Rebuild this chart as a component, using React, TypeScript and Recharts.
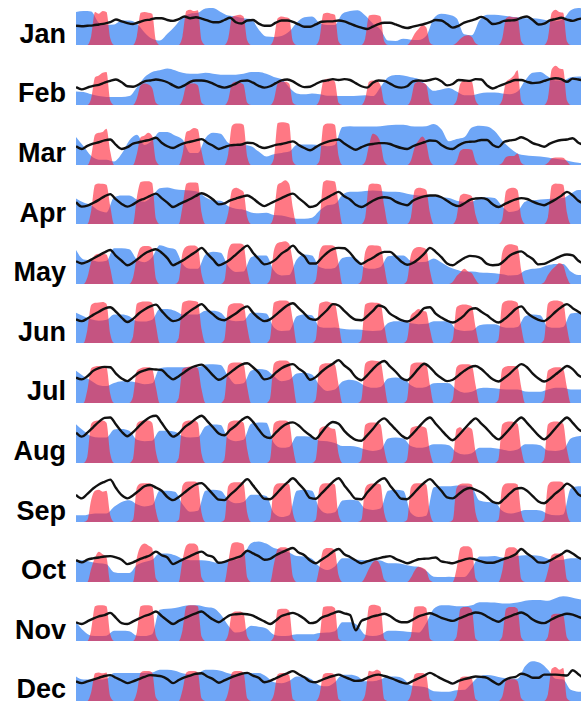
import { ComposedChart, Area, Line, XAxis, YAxis } from "recharts"

const months = ["Jan", "Feb", "Mar", "Apr", "May", "Jun", "Jul", "Aug", "Sep", "Oct", "Nov", "Dec"]

// sampling interval (hours) of each series
const SUN_STEP = 2
const TEMP_STEP = 3
const HUMIDITY_STEP = 4
const HOURS = 268

// sun: every 2h, one line per day
const janSun = [
  0, 0, 0, 0, 20, 74, 70, 76, 74, 15, 0, 0,
  0, 0, 0, 0, 20, 72, 74, 72, 70, 10, 0, 0,
  0, 0, 0, 0, 20, 76, 79, 76, 78, 10, 0, 0,
  0, 0, 0, 0, 15, 62, 66, 68, 64, 10, 0, 0,
  0, 0, 0, 0, 15, 60, 64, 62, 60, 8, 0, 0,
  0, 0, 0, 0, 15, 70, 72, 70, 68, 8, 0, 0,
  0, 0, 0, 0, 15, 66, 68, 67, 64, 8, 0, 0,
  0, 0, 0, 0, 10, 26, 36, 45, 40, 5, 0, 0,
  0, 0, 0, 0, 5, 14, 20, 22, 18, 4, 0, 0,
  0, 0, 0, 0, 15, 60, 64, 62, 62, 8, 0, 0,
  0, 0, 0, 0, 15, 72, 79, 74, 72, 8, 0, 0,
  0, 0, 0,
]
const janTemp = [
  43, 42, 43, 44, 46, 48, 51, 57,
  53, 49, 47, 51, 55, 57, 60, 60,
  56, 54, 58, 64, 60, 62, 59, 55,
  51, 51, 56, 61, 51, 48, 55, 56,
  48, 43, 43, 50, 55, 55, 52, 46,
  41, 41, 46, 52, 53, 53, 55, 53,
  48, 43, 39, 36, 41, 47, 50, 50,
  46, 41, 38, 41, 44, 47, 51, 56,
  55, 47, 39, 43, 50, 54, 58, 63,
  57, 47, 49, 54, 55, 56, 61, 64,
  56, 46, 48, 55, 58, 61, 57, 54,
  58, 60,
]
const janHumidity = [
  74, 76, 75, 50, 45, 46,
  55, 55, 48, 28, 14, 10,
  25, 42, 62, 70, 72, 82,
  83, 74, 66, 64, 60, 58,
  35, 19, 18, 20, 30, 50,
  62, 64, 50, 45, 45, 70,
  76, 78, 66, 48, 35, 10,
  9, 14, 12, 11, 20, 60,
  70, 68, 60, 24, 22, 55,
  68, 68, 66, 64, 62, 60,
  60, 58, 55, 53, 58, 78,
  83, 80,
]

const febSun = [
  0, 0, 0, 0, 15, 62, 66, 72, 74, 10, 0, 0,
  0, 0, 0, 0, 15, 44, 48, 46, 38, 5, 0, 0,
  0, 0, 0, 0, 12, 44, 48, 48, 44, 5, 0, 0,
  0, 0, 0, 0, 12, 48, 52, 50, 46, 5, 0, 0,
  0, 0, 0, 0, 12, 48, 52, 52, 48, 5, 0, 0,
  0, 0, 0, 0, 12, 54, 59, 58, 52, 5, 0, 0,
  0, 0, 0, 0, 15, 52, 55, 54, 45, 5, 0, 0,
  0, 0, 0, 0, 12, 48, 52, 50, 46, 5, 0, 0,
  0, 0, 0, 0, 10, 48, 55, 54, 52, 10, 0, 0,
  0, 0, 0, 0, 12, 52, 58, 66, 78, 8, 0, 0,
  0, 0, 0, 0, 15, 80, 88, 82, 80, 10, 0, 0,
  0, 0, 0,
]
const febTemp = [
  40, 35, 39, 43, 45, 50, 54, 57,
  51, 42, 41, 46, 53, 55, 57, 55,
  51, 44, 39, 44, 52, 55, 55, 53,
  48, 42, 39, 42, 48, 54, 55, 50,
  43, 39, 42, 49, 55, 57, 53, 45,
  40, 41, 47, 53, 55, 58, 56, 58,
  56, 49, 42, 39, 50, 55, 54, 48,
  41, 39, 42, 53, 55, 54, 56, 59,
  53, 44, 47, 56, 55, 54, 58, 57,
  44, 37, 42, 47, 52, 56, 56, 52,
  49, 50, 54, 58, 60, 58, 52, 59,
  57, 55,
]
const febHumidity = [
  30, 29, 24, 20, 18, 18,
  18, 20, 40, 62, 74, 78,
  82, 78, 72, 70, 70, 72,
  70, 68, 68, 68, 70, 74,
  74, 70, 63, 58, 40, 26,
  24, 26, 24, 21, 21, 20,
  20, 21, 22, 20, 40, 62,
  67, 66, 62, 58, 45, 32,
  35, 38, 30, 22, 22, 26,
  28, 28, 26, 24, 30, 55,
  72, 74, 64, 55, 55, 62,
  64, 62,
]

const marSun = [
  0, 0, 0, 0, 20, 68, 72, 74, 81, 30, 0, 0,
  0, 0, 0, 0, 25, 62, 66, 72, 65, 10, 0, 0,
  0, 0, 0, 0, 25, 74, 78, 83, 80, 30, 0, 0,
  0, 0, 0, 0, 25, 88, 93, 93, 90, 18, 0, 0,
  0, 0, 0, 0, 15, 94, 96, 95, 92, 8, 0, 0,
  0, 0, 0, 0, 10, 88, 93, 93, 90, 20, 0, 0,
  0, 0, 0, 0, 8, 45, 70, 66, 50, 8, 0, 0,
  0, 0, 0, 0, 10, 40, 55, 64, 50, 10, 0, 0,
  0, 0, 0, 0, 8, 32, 36, 36, 34, 8, 0, 0,
  0, 0, 0, 0, 5, 18, 20, 20, 26, 5, 0, 0,
  0, 0, 0, 0, 5, 15, 17, 17, 16, 8, 0, 0,
  0, 0, 0,
]
const marTemp = [
  42, 36, 43, 48, 51, 55, 57, 45,
  36, 40, 48, 51, 54, 57, 61, 50,
  42, 38, 44, 49, 52, 55, 58, 50,
  43, 36, 40, 44, 45, 46, 50, 49,
  42, 38, 41, 45, 47, 50, 53, 45,
  38, 33, 40, 47, 52, 55, 57, 48,
  40, 34, 40, 45, 47, 49, 49, 47,
  42, 38, 36, 42, 47, 51, 55, 54,
  45, 38, 36, 44, 50, 52, 53, 56,
  56, 45, 40, 52, 55, 57, 62, 57,
  49, 45, 41, 48, 53, 56, 57, 60,
  50, 45,
]
const marHumidity = [
  63, 42, 20, 12, 12, 8,
  25, 55, 68, 45, 55, 74,
  74, 66, 57, 27, 27, 60,
  72, 70, 50, 45, 45, 42,
  30, 19, 24, 27, 30, 45,
  46, 46, 44, 42, 45, 85,
  87, 86, 86, 86, 87, 89,
  90, 90, 87, 86, 87, 92,
  80, 53, 58, 62, 84, 88,
  86, 76, 55, 38, 26, 22,
  20, 19, 17, 14, 12, 8,
  5, 4,
]

const aprSun = [
  0, 0, 0, 0, 30, 88, 91, 90, 88, 40, 0, 0,
  0, 0, 0, 0, 60, 94, 96, 96, 92, 12, 0, 0,
  0, 0, 0, 0, 40, 90, 93, 93, 92, 25, 0, 0,
  0, 0, 0, 0, 25, 76, 81, 78, 72, 15, 0, 0,
  0, 0, 0, 0, 20, 88, 93, 98, 90, 35, 0, 0,
  0, 0, 0, 0, 12, 94, 98, 97, 95, 45, 0, 0,
  0, 0, 0, 0, 15, 88, 91, 90, 88, 40, 0, 0,
  0, 0, 0, 0, 15, 76, 81, 80, 76, 25, 0, 0,
  0, 0, 0, 0, 15, 64, 68, 66, 62, 20, 0, 0,
  0, 0, 0, 0, 10, 74, 80, 81, 76, 15, 0, 0,
  0, 0, 0, 0, 15, 86, 91, 90, 88, 25, 0, 0,
  0, 0, 0,
]
const aprTemp = [
  49, 39, 41, 47, 54, 62, 67, 55,
  45, 39, 44, 52, 57, 63, 68, 58,
  48, 38, 44, 50, 56, 63, 69, 64,
  55, 44, 46, 53, 57, 61, 64, 57,
  47, 40, 46, 52, 58, 64, 68, 58,
  48, 38, 41, 52, 59, 66, 72, 62,
  55, 43, 38, 44, 52, 58, 60, 58,
  50, 45, 42, 52, 58, 62, 64, 64,
  60, 52, 44, 40, 46, 54, 57, 58,
  55, 44, 38, 44, 50, 55, 58, 56,
  50, 45, 42, 48, 55, 63, 72, 64,
  52, 45,
]
const aprHumidity = [
  57, 48, 42, 30, 26, 60,
  64, 64, 55, 50, 62, 80,
  82, 78, 76, 75, 72, 60,
  53, 52, 40, 34, 32, 26,
  24, 25, 20, 19, 15, 12,
  12, 14, 30, 42, 45, 65,
  72, 72, 74, 75, 74, 72,
  72, 70, 66, 64, 64, 62,
  60, 58, 52, 50, 50, 58,
  60, 58, 40, 27, 30, 50,
  53, 55, 56, 57, 58, 68,
  76, 76,
]

const maySun = [
  0, 0, 0, 15, 50, 65, 68, 68, 66, 35, 0, 0,
  0, 0, 0, 15, 60, 82, 85, 85, 80, 12, 0, 0,
  0, 0, 0, 8, 70, 84, 86, 86, 82, 22, 0, 0,
  0, 0, 0, 8, 75, 90, 91, 91, 88, 30, 0, 0,
  0, 0, 0, 10, 75, 92, 94, 96, 90, 50, 0, 0,
  0, 0, 0, 8, 72, 86, 87, 87, 84, 45, 0, 0,
  0, 0, 0, 8, 72, 86, 87, 86, 84, 40, 0, 0,
  0, 0, 0, 8, 65, 80, 83, 82, 78, 30, 0, 0,
  0, 0, 0, 5, 18, 26, 34, 28, 24, 10, 0, 0,
  0, 0, 0, 6, 70, 86, 89, 88, 85, 30, 0, 0,
  0, 0, 0, 4, 20, 32, 40, 47, 42, 15, 0, 0,
  0, 0, 0,
]
const mayTemp = [
  51, 46, 50, 57, 64, 71, 76, 63,
  52, 42, 48, 58, 68, 74, 78, 70,
  58, 42, 48, 55, 64, 72, 81, 68,
  55, 42, 47, 55, 66, 77, 86, 70,
  56, 44, 47, 55, 68, 76, 86, 72,
  62, 46, 46, 58, 70, 78, 81, 80,
  70, 54, 45, 52, 59, 67, 72, 72,
  62, 50, 43, 47, 56, 68, 81, 72,
  60, 46, 42, 50, 58, 63, 62, 57,
  45, 42, 43, 52, 64, 70, 73, 64,
  56, 44, 45, 51, 57, 63, 66, 64,
  52, 45,
]
const mayHumidity = [
  76, 55, 53, 50, 52, 80,
  80, 78, 55, 49, 60, 87,
  82, 78, 45, 34, 34, 66,
  72, 70, 40, 27, 28, 60,
  64, 64, 30, 19, 20, 55,
  66, 64, 38, 34, 36, 58,
  61, 55, 36, 34, 38, 62,
  64, 64, 52, 49, 50, 57,
  48, 38, 32, 28, 28, 26,
  25, 24, 22, 19, 20, 30,
  34, 36, 42, 45, 45, 28,
  20, 20,
]

const junSun = [
  0, 0, 0, 30, 85, 90, 91, 92, 88, 20, 0, 0,
  0, 0, 0, 15, 88, 92, 93, 93, 90, 40, 0, 0,
  0, 0, 0, 12, 90, 94, 95, 94, 92, 30, 0, 0,
  0, 0, 0, 8, 82, 88, 89, 89, 86, 35, 0, 0,
  0, 0, 0, 10, 90, 94, 95, 95, 92, 50, 0, 0,
  0, 0, 0, 8, 88, 92, 93, 90, 88, 45, 0, 0,
  0, 0, 0, 8, 86, 90, 91, 90, 88, 40, 0, 0,
  0, 0, 0, 8, 62, 70, 76, 72, 70, 30, 0, 0,
  0, 0, 0, 8, 80, 85, 86, 85, 82, 35, 0, 0,
  0, 0, 0, 8, 88, 94, 95, 94, 90, 35, 0, 0,
  0, 0, 0, 8, 88, 94, 95, 94, 90, 35, 0, 0,
  0, 0, 0,
]
const junTemp = [
  53, 49, 55, 63, 70, 77, 80, 70,
  57, 47, 54, 66, 75, 82, 86, 72,
  58, 49, 52, 62, 72, 80, 87, 75,
  64, 54, 51, 58, 66, 76, 82, 68,
  56, 49, 53, 63, 74, 84, 89, 78,
  66, 54, 52, 62, 74, 87, 84, 72,
  60, 52, 51, 60, 72, 84, 80, 66,
  58, 51, 48, 54, 64, 78, 80, 66,
  57, 50, 46, 52, 62, 75, 78, 70,
  62, 52, 46, 53, 64, 76, 82, 68,
  58, 52, 49, 58, 70, 80, 87, 78,
  70, 62,
]
const junHumidity = [
  68, 60, 53, 50, 52, 64,
  64, 60, 49, 48, 52, 76,
  76, 72, 64, 64, 64, 72,
  72, 68, 52, 49, 50, 68,
  68, 66, 35, 27, 28, 60,
  64, 62, 36, 34, 35, 32,
  30, 30, 28, 27, 28, 45,
  49, 48, 44, 42, 43, 49,
  49, 48, 30, 27, 28, 40,
  42, 42, 36, 34, 36, 60,
  64, 62, 36, 34, 36, 66,
  68, 68,
]

const julSun = [
  0, 0, 0, 30, 78, 82, 83, 83, 80, 20, 0, 0,
  0, 0, 0, 15, 72, 78, 80, 80, 76, 35, 0, 0,
  0, 0, 0, 12, 76, 80, 82, 82, 78, 30, 0, 0,
  0, 0, 0, 10, 84, 90, 91, 91, 88, 35, 0, 0,
  0, 0, 0, 10, 88, 94, 95, 95, 92, 50, 0, 0,
  0, 0, 0, 8, 82, 88, 89, 89, 86, 40, 0, 0,
  0, 0, 0, 8, 88, 94, 95, 94, 92, 45, 0, 0,
  0, 0, 0, 8, 85, 90, 91, 91, 88, 40, 0, 0,
  0, 0, 0, 8, 80, 86, 87, 87, 84, 40, 0, 0,
  0, 0, 0, 8, 76, 82, 83, 83, 80, 35, 0, 0,
  0, 0, 0, 8, 72, 78, 80, 80, 76, 35, 0, 0,
  0, 0, 0,
]
const julTemp = [
  57, 53, 60, 72, 78, 81, 80, 66,
  55, 49, 58, 68, 73, 76, 75, 74,
  62, 53, 60, 69, 78, 83, 86, 76,
  62, 52, 58, 68, 78, 86, 89, 80,
  68, 53, 56, 68, 78, 84, 87, 77,
  68, 52, 58, 70, 80, 88, 96, 84,
  74, 58, 51, 62, 76, 88, 94, 82,
  70, 56, 51, 62, 77, 88, 80, 66,
  56, 49, 52, 62, 72, 80, 83, 76,
  64, 53, 48, 56, 66, 78, 87, 80,
  66, 55, 48, 54, 64, 74, 83, 76,
  62, 57,
]
const julHumidity = [
  72, 60, 50, 40, 38, 45,
  49, 49, 46, 42, 44, 78,
  80, 80, 80, 80, 80, 86,
  87, 85, 60, 42, 44, 72,
  76, 74, 60, 49, 52, 66,
  68, 64, 40, 27, 30, 48,
  52, 48, 38, 34, 36, 55,
  57, 55, 40, 34, 36, 44,
  45, 44, 30, 23, 25, 33,
  34, 33, 31, 30, 30, 26,
  25, 25, 30, 34, 34, 30,
  30, 30,
]

const augSun = [
  0, 0, 0, 15, 88, 94, 95, 95, 90, 20, 0, 0,
  0, 0, 0, 10, 88, 94, 95, 95, 90, 25, 0, 0,
  0, 0, 0, 12, 88, 94, 95, 95, 90, 20, 0, 0,
  0, 0, 0, 8, 88, 94, 95, 95, 90, 30, 0, 0,
  0, 0, 0, 8, 88, 94, 95, 95, 90, 35, 0, 0,
  0, 0, 0, 8, 76, 82, 83, 78, 76, 20, 0, 0,
  0, 0, 0, 8, 85, 90, 91, 90, 86, 30, 0, 0,
  0, 0, 0, 8, 78, 82, 83, 82, 78, 25, 0, 0,
  0, 0, 0, 8, 76, 80, 72, 80, 76, 25, 0, 0,
  0, 0, 0, 8, 86, 92, 93, 92, 88, 30, 0, 0,
  0, 0, 0, 8, 86, 92, 93, 92, 88, 30, 0, 0,
  0, 0, 0,
]
const augTemp = [
  68, 59, 68, 80, 92, 101, 102, 86,
  70, 60, 69, 82, 94, 103, 106, 90,
  72, 59, 66, 80, 89, 99, 106, 94,
  80, 66, 62, 74, 84, 96, 103, 92,
  75, 60, 56, 68, 80, 88, 91, 84,
  72, 62, 54, 68, 84, 92, 88, 72,
  60, 52, 50, 62, 76, 92, 100, 88,
  75, 62, 55, 66, 80, 94, 102, 88,
  74, 60, 51, 62, 76, 90, 100, 88,
  76, 62, 53, 63, 77, 92, 102, 90,
  76, 62, 53, 63, 78, 92, 102, 90,
  76, 68,
]
const augHumidity = [
  87, 72, 60, 57, 57, 75,
  76, 72, 52, 49, 50, 72,
  72, 70, 60, 57, 58, 82,
  86, 85, 55, 49, 52, 88,
  91, 90, 45, 34, 36, 60,
  60, 58, 50, 49, 45, 38,
  38, 36, 30, 27, 30, 55,
  57, 55, 38, 34, 36, 42,
  42, 40, 24, 19, 22, 34,
  34, 33, 30, 27, 30, 42,
  42, 40, 28, 27, 30, 55,
  60, 62,
]

const sepSun = [
  0, 0, 0, 5, 50, 70, 72, 68, 70, 15, 0, 0,
  0, 0, 0, 5, 78, 86, 87, 87, 84, 25, 0, 0,
  0, 0, 0, 5, 82, 90, 91, 91, 88, 20, 0, 0,
  0, 0, 0, 5, 80, 88, 89, 89, 86, 20, 0, 0,
  0, 0, 0, 5, 78, 86, 87, 87, 84, 20, 0, 0,
  0, 0, 0, 5, 78, 86, 87, 87, 84, 15, 0, 0,
  0, 0, 0, 5, 76, 85, 86, 86, 84, 20, 0, 0,
  0, 0, 0, 5, 78, 86, 87, 87, 84, 20, 0, 0,
  0, 0, 0, 5, 76, 85, 86, 86, 84, 20, 0, 0,
  0, 0, 0, 5, 78, 86, 87, 87, 84, 20, 0, 0,
  0, 0, 0, 5, 82, 90, 91, 91, 88, 20, 0, 0,
  0, 0, 0,
]
const sepTemp = [
  61, 53, 63, 75, 84, 90, 95, 76,
  60, 53, 60, 70, 80, 83, 77, 70,
  56, 49, 56, 66, 76, 84, 87, 76,
  62, 50, 49, 61, 72, 85, 96, 82,
  66, 52, 51, 62, 76, 88, 98, 86,
  72, 54, 52, 64, 77, 90, 98, 82,
  66, 52, 51, 66, 80, 92, 98, 82,
  66, 52, 51, 62, 76, 88, 96, 84,
  70, 55, 53, 62, 72, 76, 72, 66,
  56, 45, 42, 52, 64, 74, 76, 70,
  58, 46, 42, 52, 64, 74, 86, 78,
  62, 56,
]
const sepHumidity = [
  15, 15, 18, 19, 19, 34,
  45, 49, 40, 35, 38, 70,
  70, 68, 40, 23, 25, 70,
  72, 70, 50, 42, 45, 61,
  61, 58, 20, 11, 15, 70,
  72, 70, 30, 19, 22, 48,
  50, 48, 30, 27, 30, 70,
  72, 70, 20, 11, 14, 78,
  80, 80, 82, 82, 78, 48,
  45, 44, 25, 19, 22, 27,
  27, 26, 18, 15, 17, 75,
  80, 80,
]

const octSun = [
  0, 0, 0, 0, 30, 55, 68, 62, 55, 0, 0, 0,
  0, 0, 0, 0, 55, 80, 86, 82, 76, 8, 0, 0,
  0, 0, 0, 0, 50, 82, 86, 86, 80, 10, 0, 0,
  0, 0, 0, 0, 45, 86, 89, 88, 84, 10, 0, 0,
  0, 0, 0, 0, 40, 74, 78, 78, 72, 12, 0, 0,
  0, 0, 0, 0, 35, 72, 76, 76, 70, 15, 0, 0,
  0, 0, 0, 0, 12, 30, 44, 48, 36, 5, 0, 0,
  0, 0, 0, 0, 10, 26, 34, 32, 26, 4, 0, 0,
  0, 0, 0, 0, 30, 76, 80, 80, 74, 8, 0, 0,
  0, 0, 0, 0, 25, 74, 78, 78, 72, 6, 0, 0,
  0, 0, 0, 0, 25, 60, 64, 64, 60, 6, 0, 0,
  0, 0, 0,
]
const octTemp = [
  49, 44, 50, 53, 55, 57, 58, 55,
  50, 40, 44, 50, 55, 60, 68, 60,
  55, 40, 46, 52, 58, 64, 68, 60,
  56, 43, 45, 50, 54, 59, 70, 64,
  58, 50, 52, 60, 66, 72, 76, 66,
  60, 48, 42, 50, 58, 68, 74, 62,
  56, 48, 42, 46, 50, 53, 56, 58,
  52, 47, 42, 46, 51, 52, 53, 55,
  46, 44, 42, 46, 50, 53, 50, 46,
  43, 43, 47, 52, 56, 62, 74, 64,
  55, 44, 43, 48, 55, 62, 70, 64,
  55, 49,
]
const octHumidity = [
  49, 49, 45, 42, 40, 22,
  20, 20, 38, 45, 50, 64,
  64, 60, 52, 49, 49, 48,
  45, 42, 48, 50, 60, 87,
  91, 86, 76, 72, 66, 58,
  57, 52, 34, 27, 35, 53,
  53, 50, 49, 49, 48, 42,
  42, 40, 36, 34, 25, 12,
  11, 12, 11, 11, 30, 57,
  57, 58, 55, 55, 58, 60,
  60, 58, 52, 49, 50, 53,
  53, 53,
]

const novSun = [
  0, 0, 0, 0, 25, 78, 80, 80, 78, 15, 0, 0,
  0, 0, 0, 0, 20, 78, 80, 80, 78, 12, 0, 0,
  0, 0, 0, 0, 25, 78, 80, 80, 78, 10, 0, 0,
  0, 0, 0, 0, 15, 62, 66, 66, 62, 10, 0, 0,
  0, 0, 0, 0, 10, 70, 72, 72, 68, 5, 0, 0,
  0, 0, 0, 0, 10, 76, 78, 78, 74, 5, 0, 0,
  0, 0, 0, 0, 10, 78, 81, 80, 76, 5, 0, 0,
  0, 0, 0, 0, 10, 76, 78, 78, 74, 5, 0, 0,
  0, 0, 0, 0, 10, 72, 76, 76, 70, 5, 0, 0,
  0, 0, 0, 0, 10, 72, 76, 76, 72, 8, 0, 0,
  0, 0, 0, 0, 10, 58, 61, 61, 58, 8, 0, 0,
  0, 0, 0,
]
const novTemp = [
  42, 38, 44, 50, 55, 58, 63, 52,
  40, 38, 44, 50, 56, 60, 66, 56,
  46, 38, 45, 51, 57, 62, 66, 57,
  48, 42, 50, 58, 60, 61, 60, 57,
  50, 44, 38, 46, 56, 60, 63, 58,
  50, 40, 42, 52, 57, 62, 66, 62,
  58, 24, 45, 50, 55, 58, 61, 56,
  47, 42, 42, 48, 55, 59, 62, 58,
  52, 48, 45, 50, 55, 60, 64, 62,
  55, 48, 43, 50, 55, 60, 64, 58,
  48, 42, 40, 46, 53, 58, 61, 59,
  54, 50,
]
const novHumidity = [
  42, 23, 12, 11, 12, 23,
  23, 22, 12, 11, 15, 70,
  72, 74, 78, 80, 80, 76,
  74, 60, 35, 19, 22, 34,
  32, 28, 14, 11, 12, 15,
  15, 15, 18, 19, 22, 42,
  42, 35, 14, 11, 14, 23,
  23, 22, 20, 19, 40, 72,
  80, 80, 78, 78, 80, 87,
  87, 86, 84, 84, 86, 90,
  92, 92, 90, 96, 100, 98,
  94, 92,
]

const decSun = [
  0, 0, 0, 0, 20, 62, 64, 62, 64, 10, 0, 0,
  0, 0, 0, 0, 20, 64, 67, 67, 64, 8, 0, 0,
  0, 0, 0, 0, 25, 64, 67, 67, 64, 6, 0, 0,
  0, 0, 0, 0, 20, 64, 67, 67, 64, 6, 0, 0,
  0, 0, 0, 0, 15, 60, 63, 63, 58, 4, 0, 0,
  0, 0, 0, 0, 15, 60, 63, 63, 58, 4, 0, 0,
  0, 0, 0, 0, 15, 68, 66, 70, 66, 4, 0, 0,
  0, 0, 0, 0, 15, 60, 63, 63, 58, 4, 0, 0,
  0, 0, 0, 0, 12, 52, 55, 55, 50, 4, 0, 0,
  0, 0, 0, 0, 10, 46, 49, 49, 45, 6, 0, 0,
  0, 0, 0, 0, 15, 72, 76, 70, 74, 6, 0, 0,
  0, 0, 0,
]
const decTemp = [
  44, 40, 44, 48, 52, 56, 58, 52,
  46, 40, 44, 49, 54, 58, 57, 55,
  49, 40, 47, 53, 57, 61, 62, 55,
  49, 41, 46, 52, 57, 61, 63, 57,
  52, 42, 45, 51, 57, 62, 67, 60,
  53, 44, 42, 47, 52, 56, 59, 54,
  49, 45, 46, 52, 57, 59, 56, 52,
  47, 42, 39, 45, 51, 57, 63, 57,
  50, 44, 39, 45, 49, 52, 55, 54,
  52, 44, 37, 46, 52, 54, 61, 58,
  52, 52, 59, 59, 59, 58, 57, 69,
  60, 50,
]
const decHumidity = [
  55, 48, 48, 48, 50, 63,
  63, 63, 63, 63, 64, 70,
  70, 68, 62, 60, 62, 70,
  70, 68, 62, 59, 60, 63,
  63, 55, 42, 40, 45, 55,
  55, 48, 35, 33, 42, 59,
  59, 55, 44, 44, 48, 55,
  55, 50, 35, 33, 30, 22,
  21, 21, 24, 25, 40, 55,
  58, 56, 52, 50, 50, 78,
  89, 85, 70, 50, 48, 25,
  21, 21,
]

const rows = [
  { month: months[0], sun: janSun, temp: janTemp, humidity: janHumidity },
  { month: months[1], sun: febSun, temp: febTemp, humidity: febHumidity },
  { month: months[2], sun: marSun, temp: marTemp, humidity: marHumidity },
  { month: months[3], sun: aprSun, temp: aprTemp, humidity: aprHumidity },
  { month: months[4], sun: maySun, temp: mayTemp, humidity: mayHumidity },
  { month: months[5], sun: junSun, temp: junTemp, humidity: junHumidity },
  { month: months[6], sun: julSun, temp: julTemp, humidity: julHumidity },
  { month: months[7], sun: augSun, temp: augTemp, humidity: augHumidity },
  { month: months[8], sun: sepSun, temp: sepTemp, humidity: sepHumidity },
  { month: months[9], sun: octSun, temp: octTemp, humidity: octHumidity },
  { month: months[10], sun: novSun, temp: novTemp, humidity: novHumidity },
  { month: months[11], sun: decSun, temp: decTemp, humidity: decHumidity },
]

type Point = { hour: number; sun?: number; temp?: number; humidity?: number }

// merge the three differently-sampled series into one table keyed by hour
function buildTable(sun: number[], temp: number[], humidity: number[]): Point[] {
  const byHour = new Map<number, Point>()
  const put = (values: number[], step: number, key: "sun" | "temp" | "humidity") => {
    values.forEach((v, i) => {
      const hour = i * step
      const p = byHour.get(hour) ?? { hour }
      p[key] = v
      byHour.set(hour, p)
    })
  }
  put(sun, SUN_STEP, "sun")
  put(temp, TEMP_STEP, "temp")
  put(humidity, HUMIDITY_STEP, "humidity")
  return [...byHour.values()].sort((a, b) => a.hour - b.hour)
}

const FIRST_BASELINE = 45.3
const ROW_GAP = 59.6
const PLOT_LEFT = 76
const PLOT_WIDTH = 510
const PLOT_HEIGHT = 50

function MonthRow({ sun, temp, humidity, baseline }: { sun: number[]; temp: number[]; humidity: number[]; baseline: number }) {
  const data = buildTable(sun, temp, humidity)
  return (
    <div style={{ position: "absolute", left: PLOT_LEFT, top: baseline - PLOT_HEIGHT }}>
      <ComposedChart width={PLOT_WIDTH} height={PLOT_HEIGHT} data={data} margin={{ top: 0, right: 0, bottom: 0, left: 0 }}>
        <XAxis dataKey="hour" type="number" domain={[0, HOURS]} hide />
        <YAxis type="number" domain={[0, 112]} hide />
        <Area
          type="monotone"
          dataKey="humidity"
          fill="#6ea6f7"
          fillOpacity={1}
          stroke="none"
          connectNulls
          dot={false}
          activeDot={false}
          isAnimationActive={false}
        />
        <Area
          type="monotone"
          dataKey="sun"
          fill="rgb(255, 30, 50)"
          fillOpacity={0.6}
          stroke="none"
          connectNulls
          dot={false}
          activeDot={false}
          isAnimationActive={false}
        />
        <Line
          type="monotone"
          dataKey="temp"
          stroke="#111"
          strokeWidth={2.4}
          dot={false}
          activeDot={false}
          connectNulls
          isAnimationActive={false}
        />
      </ComposedChart>
    </div>
  )
}

export default function App() {
  return (
    <div style={{ position: "fixed", left: 0, top: 0, width: 581, height: 703, overflow: "hidden", background: "#fff" }}>
      <svg width={76} height={703} style={{ position: "absolute", left: 0, top: 0 }}>
        {rows.map((r, i) => (
          <text
            key={r.month}
            x={66}
            y={FIRST_BASELINE + i * ROW_GAP - 2.5}
            textAnchor="end"
            fontFamily="'Liberation Sans', Arial, sans-serif"
            fontWeight="bold"
            fontSize={27}
            fill="#000"
          >
            {r.month}
          </text>
        ))}
      </svg>
      {rows.map((r, i) => (
        <MonthRow key={r.month} sun={r.sun} temp={r.temp} humidity={r.humidity} baseline={FIRST_BASELINE + i * ROW_GAP} />
      ))}
    </div>
  )
}
